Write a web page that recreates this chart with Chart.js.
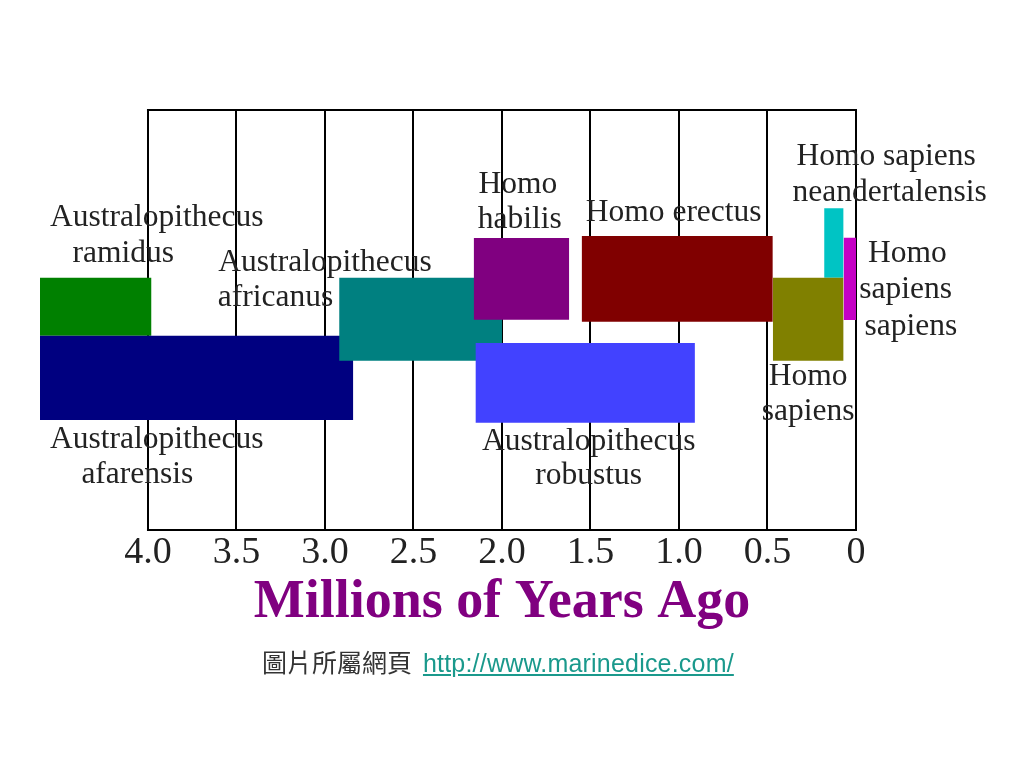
<!DOCTYPE html>
<html>
<head>
<meta charset="utf-8">
<script src="https://cdn.jsdelivr.net/npm/chart.js@4/dist/chart.umd.min.js"></script>
<style>
  body { margin: 0; background: #fff; }
  #wrap { position: relative; width: 1024px; height: 768px; }
  #footer {
    position: absolute; left: 262px; top: 647px;
    font-size: 25px; line-height: 28px; color: #333;
    font-family: "Liberation Sans", Arial, sans-serif; white-space: nowrap;
  }
  #footer .zh { font-family: "Noto Sans CJK TC", sans-serif; }
  #footer a { color: #1a998c; letter-spacing: 0.2px; margin-left: 4px; }
</style>
</head>
<body>
<div id="wrap">
  <canvas id="chart-timeline" width="1024" height="768"></canvas>
  <div id="footer"><span class="zh">圖片所屬網頁</span> <a href="http://www.marinedice.com/">http://www.marinedice.com/</a></div>
</div>
<script>
'use strict';

// [ data ] millions of years ago, rows are vertical bands (top -> bottom)
var species = [
    'Australopithecus ramidus',
    'Australopithecus afarensis',
    'Australopithecus africanus',
    'Homo habilis',
    'Australopithecus robustus',
    'Homo erectus',
    'Homo sapiens neandertalensis',
    'Homo sapiens',
    'Homo sapiens sapiens'
];
var startMya = [4.61, 4.61, 2.92, 2.16, 2.15, 1.55, 0.18, 0.47, 0.07];
var endMya = [3.98, 2.84, 2.00, 1.62, 0.91, 0.47, 0.07, 0.07, 0.00];
var rowTop = [16.77, 22.57, 16.77, 12.8, 23.3, 12.6, 9.83, 16.77, 12.77];
var rowBottom = [22.57, 31.0, 25.07, 20.97, 31.27, 21.17, 16.77, 25.07, 21.0];
var barColors = ['#008000', '#000080', '#008080', '#800080', '#4242ff', '#800000', '#00c4c4', '#808000', '#c400c4'];

var tickValues = [4.0, 3.5, 3.0, 2.5, 2.0, 1.5, 1.0, 0.5, 0];
var tickLabels = ['4.0', '3.5', '3.0', '2.5', '2.0', '1.5', '1.0', '0.5', '0'];

// label lines: text, centre (mya), row
var labelText = ['Australopithecus', 'ramidus', 'Australopithecus', 'africanus',
    'Australopithecus', 'afarensis', 'Homo', 'habilis', 'Homo erectus',
    'Australopithecus', 'robustus', 'Homo sapiens', 'neandertalensis',
    'Homo', 'sapiens', 'sapiens', 'Homo', 'sapiens'];
var labelMya = [3.95, 4.14, 3.00, 3.28, 3.95, 4.06, 1.91, 1.90, 1.03,
    1.51, 1.51, -0.17, -0.19, -0.29, -0.28, -0.31, 0.27, 0.27];
var labelRow = [10.8, 14.4, 15.3, 18.8, 33.0, 36.5, 7.45, 10.95, 10.25,
    33.15, 36.6, 4.65, 8.3, 14.4, 17.95, 21.65, 26.65, 30.2];

var axisTitle = 'Millions of Years Ago';

var datasets = species.map(function(name, i) {
    return {
        label: name,
        data: [{x: startMya[i], y: rowTop[i]}, {x: endMya[i], y: rowTop[i]}],
        backgroundColor: barColors[i],
        borderColor: 'rgba(0,0,0,0)',
        borderWidth: 0,
        pointRadius: 0,
        pointHitRadius: 0,
        tension: 0,
        fill: {target: {value: rowBottom[i]}},
        order: species.length - i
    };
});

// frame (top/bottom of the 4.0 .. 0 box), labels and axis title
var decorations = {
    id: 'decorations',
    beforeDatasetsDraw: function(chart) {
        var ctx = chart.ctx, x = chart.scales.x, a = chart.chartArea;
        var l = x.getPixelForValue(4.0), r = x.getPixelForValue(0);
        ctx.save();
        ctx.strokeStyle = '#000';
        ctx.lineWidth = 2;
        ctx.beginPath();
        ctx.moveTo(l - 1, a.top); ctx.lineTo(r + 1, a.top);
        ctx.moveTo(l - 1, a.bottom); ctx.lineTo(r + 1, a.bottom);
        ctx.stroke();
        ctx.restore();
    },
    afterDatasetsDraw: function(chart) {
        var ctx = chart.ctx, x = chart.scales.x, y = chart.scales.y, a = chart.chartArea;
        ctx.save();
        ctx.fillStyle = '#222';
        ctx.textAlign = 'center';
        ctx.textBaseline = 'middle';
        ctx.font = '31.5px "Liberation Serif", "Times New Roman", serif';
        labelText.forEach(function(t, i) {
            ctx.fillText(t, x.getPixelForValue(labelMya[i]), y.getPixelForValue(labelRow[i]));
        });
        ctx.fillStyle = '#800080';
        ctx.font = 'bold 54px "Liberation Serif", "Times New Roman", serif';
        ctx.fillText(axisTitle, (x.getPixelForValue(4.0) + x.getPixelForValue(0)) / 2, a.bottom + 73);
        ctx.restore();
    }
};

var chart = new Chart(document.getElementById('chart-timeline').getContext('2d'), {
    type: 'line',
    data: {datasets: datasets},
    plugins: [decorations],
    options: {
        responsive: false,
        animation: false,
        events: [],
        layout: {padding: {left: 40, right: 168, top: 110, bottom: 192}},
        plugins: {legend: {display: false}, tooltip: {enabled: false}},
        scales: {
            x: {
                type: 'linear',
                reverse: true,
                min: 0,
                max: 4.61,
                afterBuildTicks: function(axis) {
                    axis.ticks = tickValues.map(function(v) { return {value: v}; });
                },
                ticks: {
                    autoSkip: false,
                    maxRotation: 0,
                    padding: 4,
                    color: '#222',
                    font: {family: '"Liberation Serif", "Times New Roman", serif', size: 38, lineHeight: 1},
                    callback: function(value, index) { return tickLabels[index]; }
                },
                grid: {color: '#000', lineWidth: 2, drawTicks: false},
                border: {display: false}
            },
            y: {
                type: 'linear',
                display: false,
                reverse: true,
                min: 0,
                max: 42
            }
        }
    }
});
</script>
</body>
</html>
